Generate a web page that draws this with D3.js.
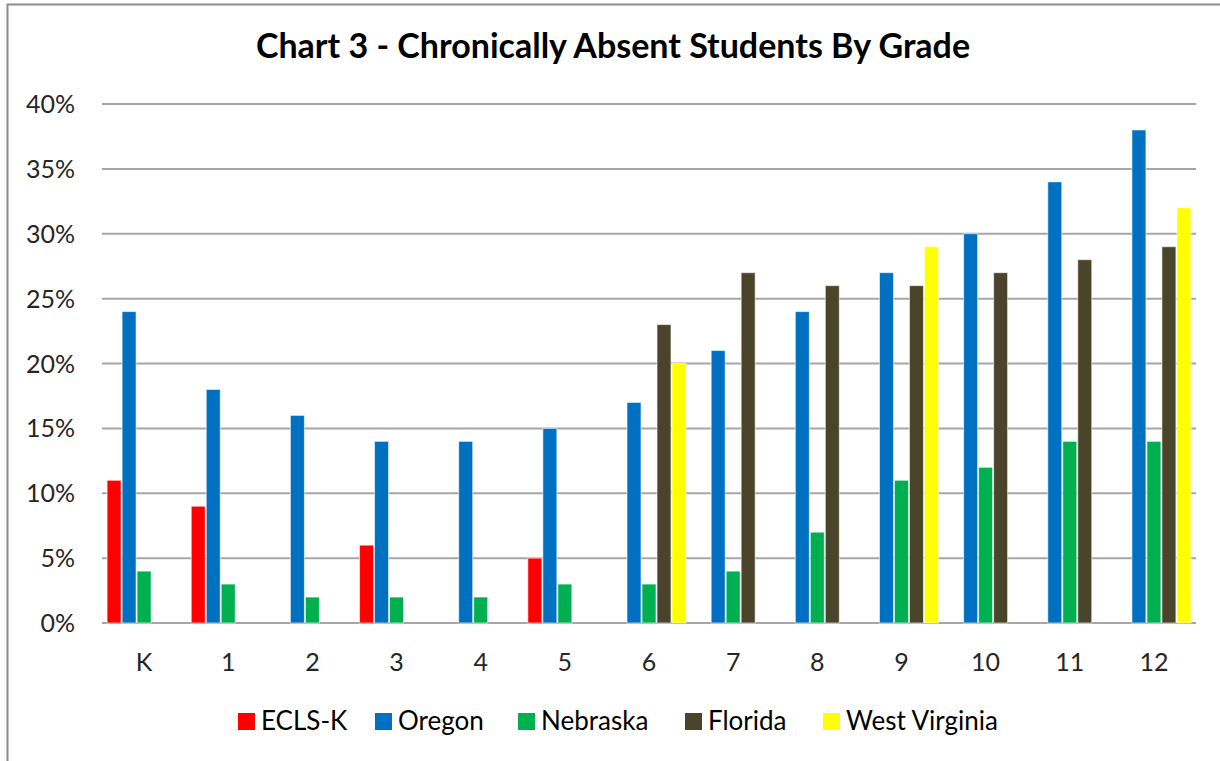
<!DOCTYPE html>
<html>
<head>
<meta charset="utf-8">
<script src="https://cdn.jsdelivr.net/npm/d3@7"></script>
<style>
  body { margin: 0; background: #fff; }
  text { font-family: Lato, "Open Sans", sans-serif; }
</style>
</head>
<body>
<svg id="chart" width="1220" height="761"></svg>
<script>
// data (percent, null = no bar)
var grades = ["K", "1", "2", "3", "4", "5", "6", "7", "8", "9", "10", "11", "12"];
var seriesNames = ["ECLS-K", "Oregon", "Nebraska", "Florida", "West Virginia"];
var seriesColors = ["#ff0000", "#0070c0", "#00b050", "#4a452a", "#ffff00"];
var eclsk = [11, 9, null, 6, null, 5, null, null, null, null, null, null, null];
var oregon = [24, 18, 16, 14, 14, 15, 17, 21, 24, 27, 30, 34, 38];
var nebraska = [4, 3, 2, 2, 2, 3, 3, 4, 7, 11, 12, 14, 14];
var florida = [null, null, null, null, null, null, 23, 27, 26, 26, 27, 28, 29];
var westVirginia = [null, null, null, null, null, null, 20, null, null, 29, null, null, 32];
var yTicks = [0, 5, 10, 15, 20, 25, 30, 35, 40];

var allSeries = [eclsk, oregon, nebraska, florida, westVirginia];

var svg = d3.select("#chart");

// outer frame
svg.append("rect")
  .attr("x", 7.5).attr("y", 4.5)
  .attr("width", 1240).attr("height", 780)
  .attr("fill", "none")
  .attr("stroke", "#8c8c8c")
  .attr("stroke-width", 2);

svg.append("text")
  .attr("x", 613).attr("y", 58)
  .attr("text-anchor", "middle")
  .attr("font-size", 34)
  .attr("font-weight", "bold")
  .attr("fill", "#000")
  .text("Chart 3 - Chronically Absent Students By Grade");

var plotLeft = 102, plotRight = 1196, plotTop = 104, plotBottom = 623;

var x0 = d3.scaleBand()
  .domain(grades)
  .range([plotLeft, plotRight])
  .paddingInner(0.109)
  .paddingOuter(0.0545);

var x1 = d3.scaleBand()
  .domain(seriesNames)
  .range([0, x0.bandwidth()]);

var y = d3.scaleLinear()
  .domain([0, 40])
  .range([plotBottom, plotTop]);

// gridlines
svg.append("g")
  .selectAll("line")
  .data(yTicks)
  .join("line")
  .attr("x1", plotLeft).attr("x2", plotRight)
  .attr("y1", d => y(d)).attr("y2", d => y(d))
  .attr("stroke", "#a6a6a6")
  .attr("stroke-width", 2);

// y labels
svg.append("g")
  .selectAll("text")
  .data(yTicks)
  .join("text")
  .attr("x", 75)
  .attr("y", d => y(d))
  .attr("dy", "0.36em")
  .attr("text-anchor", "end")
  .attr("font-size", 25)
  .attr("fill", "#262626")
  .text(d => d + "%");

// bars
var rows = [];
grades.forEach((g, i) => {
  seriesNames.forEach((s, j) => {
    var v = allSeries[j][i];
    if (v != null) rows.push({ grade: g, series: s, value: v, color: seriesColors[j] });
  });
});

svg.append("g")
  .selectAll("rect")
  .data(rows)
  .join("rect")
  .attr("x", d => x0(d.grade) + x1(d.series) + 0.5)
  .attr("y", d => y(d.value))
  .attr("width", x1.bandwidth() - 1)
  .attr("height", d => plotBottom - y(d.value))
  .attr("fill", d => d.color)
  .attr("stroke", "#ffffff")
  .attr("stroke-opacity", 0.6)
  .attr("stroke-width", 1);

// x labels
svg.append("g")
  .selectAll("text")
  .data(grades)
  .join("text")
  .attr("x", d => x0(d) + x0.bandwidth() / 2)
  .attr("y", 671)
  .attr("text-anchor", "middle")
  .attr("font-size", 25)
  .attr("fill", "#262626")
  .text(d => d);

// legend
var legendX = [238, 375, 518, 685, 823];
var legend = svg.append("g")
  .selectAll("g")
  .data(seriesNames)
  .join("g")
  .attr("transform", (d, i) => `translate(${legendX[i]},721)`);

legend.append("rect")
  .attr("x", 0).attr("y", -8)
  .attr("width", 17).attr("height", 17)
  .attr("fill", (d, i) => seriesColors[i]);

legend.append("text")
  .attr("x", 23).attr("y", 9)
  .attr("font-size", 26)
  .attr("fill", "#000")
  .text(d => d);
</script>
</body>
</html>
